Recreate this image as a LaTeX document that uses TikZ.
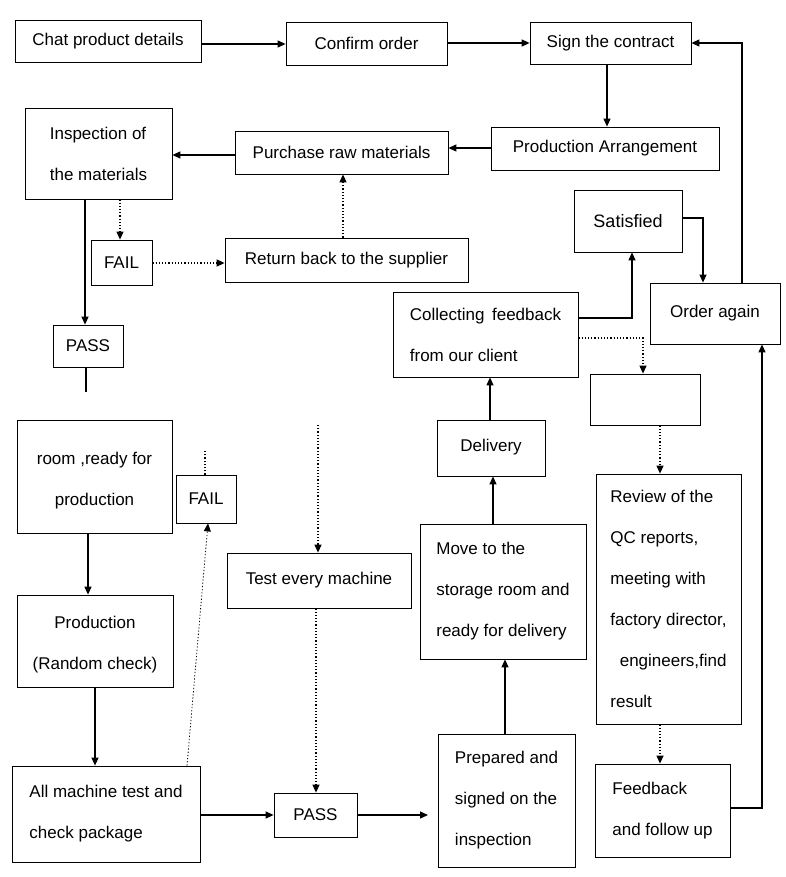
\documentclass[tikz,border=0pt]{standalone}
\usepackage{fontspec}
\setmainfont{Liberation Sans}
\usetikzlibrary{arrows.meta}
\begin{document}
\begin{tikzpicture}[x=1pt,y=-1pt,
  box/.style={draw,line width=0.8pt,fill=white,inner sep=0pt,align=left,font=\fontsize{17}{41}\selectfont},
  ar/.style={line width=1.2pt,-{Triangle[length=8pt,width=7pt]}},
  dar/.style={ar,dotted}]
\useasboundingbox (0,0) rectangle (786,877);
\newcommand\bx[6]{\node[box,minimum width=#4pt-#2pt,minimum height=#5pt-#3pt] (#1) at ({(#2+#4)/2},{(#3+#5)/2}) {#6};}
\bx{a}{15}{20}{201}{62}{Chat product details}
\bx{b}{286}{22}{447}{65}{Confirm order}
\bx{c}{530}{22}{691}{64}{Sign the contract}
\bx{d}{491}{127}{719}{170}{Production Arrangement}
\bx{e}{235}{131}{448}{174}{Purchase raw materials}
\bx{f}{25}{108}{172}{199}{Inspection of\\the materials}
\bx{g}{91}{240}{152}{285}{FAIL}
\bx{h}{225}{238}{468}{282}{Return back to the supplier}
\bx{i}{53}{325}{123}{367}{PASS}
\bx{j}{574}{190}{682}{252}{\fontsize{18}{20}\selectfont Satisfied}
\bx{k}{650}{283}{780}{344}{Order again}
\bx{l}{393}{292}{578}{377}{Collecting\, feedback\\from our client}
\bx{m}{590}{374}{700}{425}{}
\bx{n}{437}{420}{545}{476}{\raisebox{6pt}{Delivery}}
\bx{o}{17}{420}{172}{533}{\raisebox{-12pt}{\begin{tabular}{@{}c@{}}room ,ready for\\production\end{tabular}}}
\bx{p}{176}{475}{236}{523}{FAIL}
\bx{q}{227}{553}{411}{608}{Test every machine}
\bx{r}{420}{524}{586}{659}{Move to the\\storage room and\\ready for delivery}
\bx{s}{596}{474}{741}{724}{Review of the\\QC reports,\\meeting with\\factory director,\\\ \ engineers,find\\result}
\bx{t}{17}{595}{173}{687}{\begin{tabular}{@{}c@{}}Production\\(Random check)\end{tabular}}
\bx{u}{12}{766}{200}{862}{All machine test and\\check package}
\bx{v}{274}{793}{357}{837}{PASS}
\bx{w}{438}{734}{575}{867}{Prepared and\\signed on the\\inspection}
\bx{x}{595}{764}{730}{857}{Feedback\\and follow up}
\coordinate (wm1) at (86,392);
\coordinate (wm2) at (205,450);
\coordinate (wm3) at (318,425);
\draw[ar] (a.east |- 0,44) -- (b.west |- 0,44);
\draw[ar] (b.east |- 0,43) -- (c.west |- 0,43);
\draw[ar] (607,0 |- c.south) -- (607,0 |- d.north);
\draw[ar] (d.west |- 0,148) -- (e.east |- 0,148);
\draw[ar] (e.west |- 0,155) -- (f.east |- 0,155);
\draw[ar] (85,0 |- f.south) -- (85,0 |- i.north);
\draw[dar] (120,0 |- f.south) -- (120,0 |- g.north);
\draw[dar] (g.east |- 0,263) -- (h.west |- 0,263);
\draw[dar] (343,0 |- h.north) -- (343,0 |- e.south);
\draw[line width=1.2pt] (86,0 |- i.south) -- (wm1);
\draw[ar] (l.east |- 0,318) -| (632,0 |- j.south);
\draw[ar] (j.east |- 0,218) -| (703,0 |- k.north);
\draw[ar] (742,0 |- k.north) |- (c.east |- 0,43);
\draw[dar] (l.east |- 0,338) -| (643,0 |- m.north);
\draw[ar] (490,0 |- n.north) -- (490,0 |- l.south);
\draw[ar] (88,0 |- o.south) -- (88,0 |- t.north);
\draw[ar] (95,0 |- t.south) -- (95,0 |- u.north);
\draw[ar] (u.east |- 0,815) -- (v.west |- 0,815);
\draw[ar] (v.east |- 0,815) -- (428,815);
\draw[ar] (505,0 |- w.north) -- (505,0 |- r.south);
\draw[ar] (493,0 |- r.north) -- (493,0 |- n.south);
\draw[dar,line width=0.8pt] (187,0 |- u.north) -- (208,0 |- p.south);
\draw[dotted,line width=1.2pt] (205,0 |- p.north) -- (wm2);
\draw[dar] (wm3) -- (318,0 |- q.north);
\draw[dar] (316,0 |- q.south) -- (316,0 |- v.north);
\draw[dar] (660,0 |- m.south) -- (660,0 |- s.north);
\draw[dar] (660,0 |- s.south) -- (660,0 |- x.north);
\draw[ar] (x.east |- 0,808) -| (762,0 |- k.south);
\end{tikzpicture}
\end{document}
